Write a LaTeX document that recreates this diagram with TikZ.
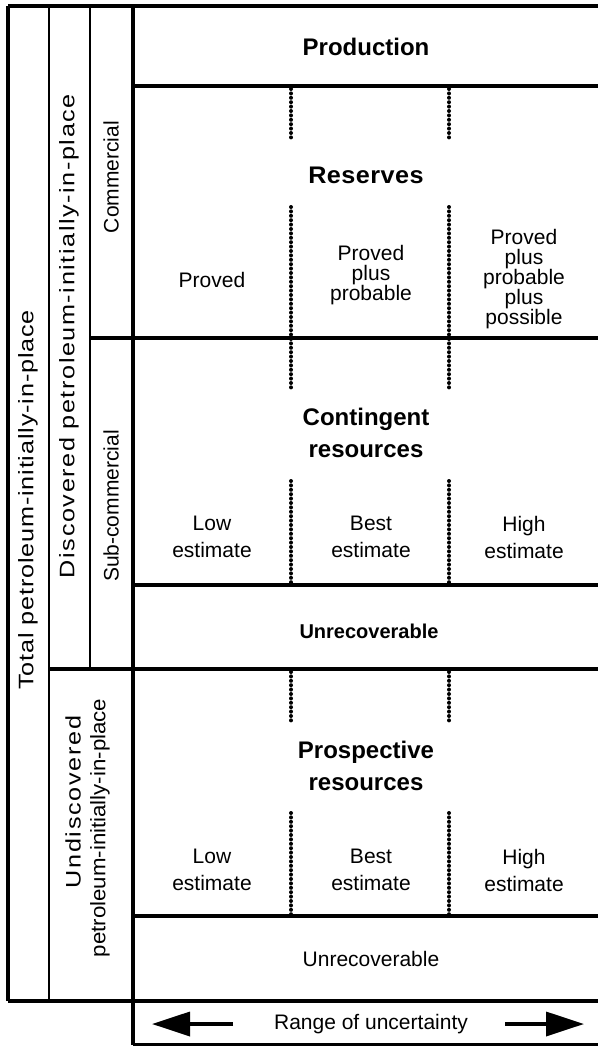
\documentclass[tikz,border=0pt]{standalone}
\usepackage{fontspec}
\setmainfont{Liberation Sans}
\usetikzlibrary{arrows.meta}
\newcommand{\spaced}[3]{{\addfontfeatures{FakeStretch=#1,LetterSpace=#2}#3}}
\tikzset{
  rule/.style={line width=3.2pt},
  thinrule/.style={line width=2.4pt},
  sep/.style={line width=4pt,dash pattern=on 0pt off 4.4pt,line cap=round},
  hd/.style={font=\fontsize{24}{32}\selectfont\bfseries,align=center,inner sep=0pt},
  lbl/.style={font=\fontsize{21}{20}\selectfont,align=center,inner sep=0pt},
  est/.style={lbl,font=\fontsize{21}{27}\selectfont},
  vlbl/.style={lbl,rotate=90},
  arr/.style={line width=3.5pt,-{Triangle[length=38pt,width=24pt]}},
}
\begin{document}
\begin{tikzpicture}[x=1pt,y=-1pt]
  \useasboundingbox (0,0) rectangle (598,1046);
  % frame
  \draw[rule] (8,6) -- (598,6);
  \draw[rule] (8,6) -- (8,1001);
  \draw[thinrule] (49,6) -- (49,1001);
  \draw[thinrule] (90,6) -- (90,669);
  \draw[rule] (133,6) -- (133,1045);
  \draw[rule] (133,86) -- (598,86);
  \draw[rule] (90,338) -- (598,338);
  \draw[rule] (133,585) -- (598,585);
  \draw[rule] (49,669) -- (598,669);
  \draw[rule] (133,916) -- (598,916);
  \draw[rule] (8,1001) -- (598,1001);
  \draw[rule] (133,1045) -- (598,1045);
  % uncertainty columns
  \foreach \x in {291,449} {
    \draw[sep] (\x,89) -- (\x,139);
    \draw[sep] (\x,207) -- (\x,391);
    \draw[sep] (\x,481) -- (\x,584);
    \draw[sep] (\x,672) -- (\x,722);
    \draw[sep] (\x,813) -- (\x,915);
  }
  % side labels
  \node[vlbl] (total) at (28,500) {\spaced{1.2}{4}{Total petroleum-initially-in-place}};
  \node[vlbl] (disc) at (69,336) {\spaced{1.2}{7.5}{Discovered petroleum-initially-in-place}};
  \node[vlbl] (undisc) at (73,802) {\spaced{1.2}{8}{Undiscovered}};
  \node[vlbl] (undisc2) at (100,828) {\spaced{1.06}{0}{petroleum-initially-in-place}};
  \node[vlbl] (comm) at (111,177) {Commercial};
  \node[vlbl] (subcomm) at (111,506) {Sub-commercial};
  % classes
  \node[hd] (prod) at (366,47) {Production};
  \node[hd] (res) at (366,175) {\spaced{1.05}{2}{Reserves}};
  \node[lbl] (p1) at (212,280) {Proved};
  \node[lbl] (p2) at (371,275) {Proved\\plus\\probable};
  \node[lbl] (p3) at (524,279) {Proved\\plus\\probable\\plus\\possible};
  \node[hd] (cont) at (366,433) {Contingent\\resources};
  \node[est] (clow) at (212,537) {Low\\estimate};
  \node[est] (cbest) at (371,537) {Best\\estimate};
  \node[est] (chigh) at (524,537) {High\\estimate};
  \node[hd,font=\fontsize{20}{22}\selectfont\bfseries] (unrec1) at (369,631) {Unrecoverable};
  \node[hd] (prosp) at (366,766) {Prospective\\resources};
  \node[est] (plow) at (212,870) {Low\\estimate};
  \node[est] (pbest) at (371,870) {Best\\estimate};
  \node[est] (phigh) at (524,870) {High\\estimate};
  \node[lbl] (unrec2) at (371,959) {Unrecoverable};
  % range
  \node[lbl] (range) at (371,1024) {Range of uncertainty};
  \coordinate (lstart) at (233,1024);
  \coordinate (lend) at (152,1024);
  \coordinate (rstart) at (505,1024);
  \coordinate (rend) at (584,1024);
  \draw[arr] (lstart) -- (lend);
  \draw[arr] (rstart) -- (rend);
\end{tikzpicture}
\end{document}
